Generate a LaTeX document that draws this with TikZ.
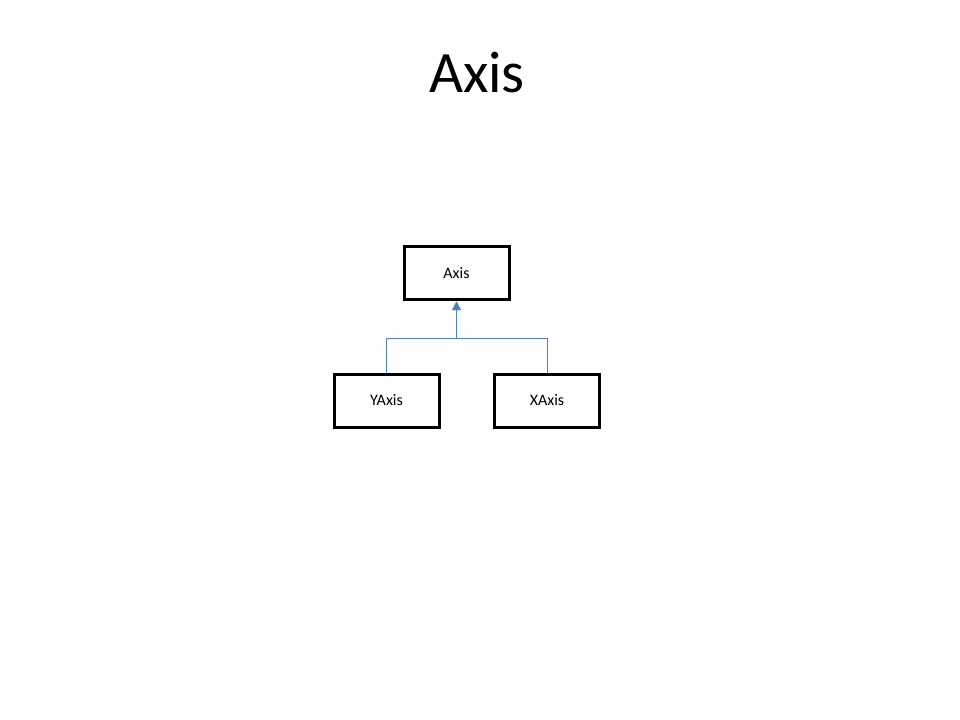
\documentclass[tikz,border=0pt]{standalone}
\usepackage{fontspec}
\setmainfont{Carlito}
\usetikzlibrary{arrows.meta, positioning}
\definecolor{linkcolor}{RGB}{79, 129, 189}

\begin{document}
\begin{tikzpicture}[
    x=0.75pt, y=-0.75pt,
    >={Triangle[length=6.5pt, width=6.5pt]},
    classbox/.style={rectangle, draw, line width=2.25pt, minimum width=78.75pt, minimum height=39.75pt, inner sep=0pt, align=center, font=\fontsize{12}{14}\selectfont},
    inherit/.style={->, draw=linkcolor, line width=0.75pt}
]

% Page
\useasboundingbox (0, 0) rectangle (960, 720);

% Title
\node[font=\fontsize{44}{50}\selectfont, anchor=base] (title) at (477, 93) {Axis};

% Classes
\node[classbox] (axis) at (456.5, 273.5) {Axis};
\node[classbox] (yaxis) at (386.5, 400.5) {YAxis};
\node[classbox] (xaxis) at (547, 400.5) {XAxis};

% Inheritance links
\draw[inherit] (yaxis.north) |- (456.5, 338) -- (axis.south);
\draw[inherit] (xaxis.north) |- (456.5, 338) -- (axis.south);

\end{tikzpicture}
\end{document}
